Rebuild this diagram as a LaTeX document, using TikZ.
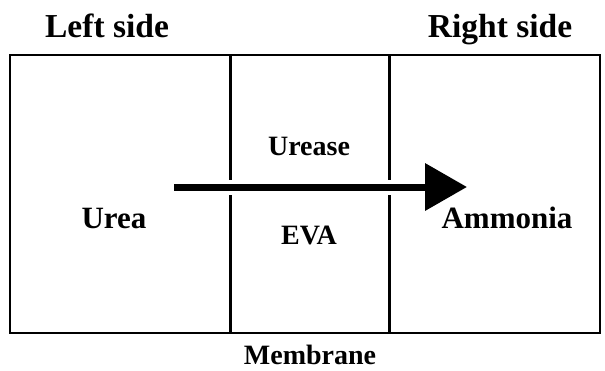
\documentclass[tikz,border=0pt]{standalone}
\usepackage{fontspec}
\setmainfont{Liberation Serif}
\usetikzlibrary{arrows.meta}
\begin{document}
\begin{tikzpicture}[x=1pt,y=-1pt,
  head/.style={font=\fontsize{33.5}{33.5}\selectfont\bfseries, inner sep=0pt, anchor=base},
  big/.style={font=\fontsize{31}{31}\selectfont\bfseries, inner sep=0pt, anchor=base},
  mid/.style={font=\fontsize{28}{28}\selectfont\bfseries, inner sep=0pt, anchor=base},
  small/.style={font=\fontsize{28}{28}\selectfont\bfseries, inner sep=0pt, anchor=base},
  wall/.style={line width=3pt},
  flow/.style={line width=7pt, -{Triangle[length=42pt,width=46pt]}}]
\useasboundingbox (0,0) rectangle (605,370);
\draw[line width=2.8pt] (10,55) rectangle (600,333);
\coordinate (m1t) at (230,55); \coordinate (m1b) at (230,333);
\coordinate (m2t) at (389,55); \coordinate (m2b) at (389,333);
\draw[wall] (m1t) -- (m1b);
\draw[wall] (m2t) -- (m2b);
\node[head] (ls) at (107,37) {Left side};
\node[head] (rs) at (500,37) {Right side};
\node[big] (urea) at (114,228) {Urea};
\node[big] (amm) at (507,228) {Ammonia};
\node[mid] (ure) at (309,155) {Urease};
\node[mid] (eva) at (309,244) {EVA};
\node[small] (mem) at (310,364) {Membrane};
\coordinate (a0) at (174,187);
\coordinate (a1) at (467,187);
\draw[line width=15pt, white, shorten >=40pt] (a0) -- (a1);
\draw[flow] (a0) -- (a1);
\end{tikzpicture}
\end{document}
